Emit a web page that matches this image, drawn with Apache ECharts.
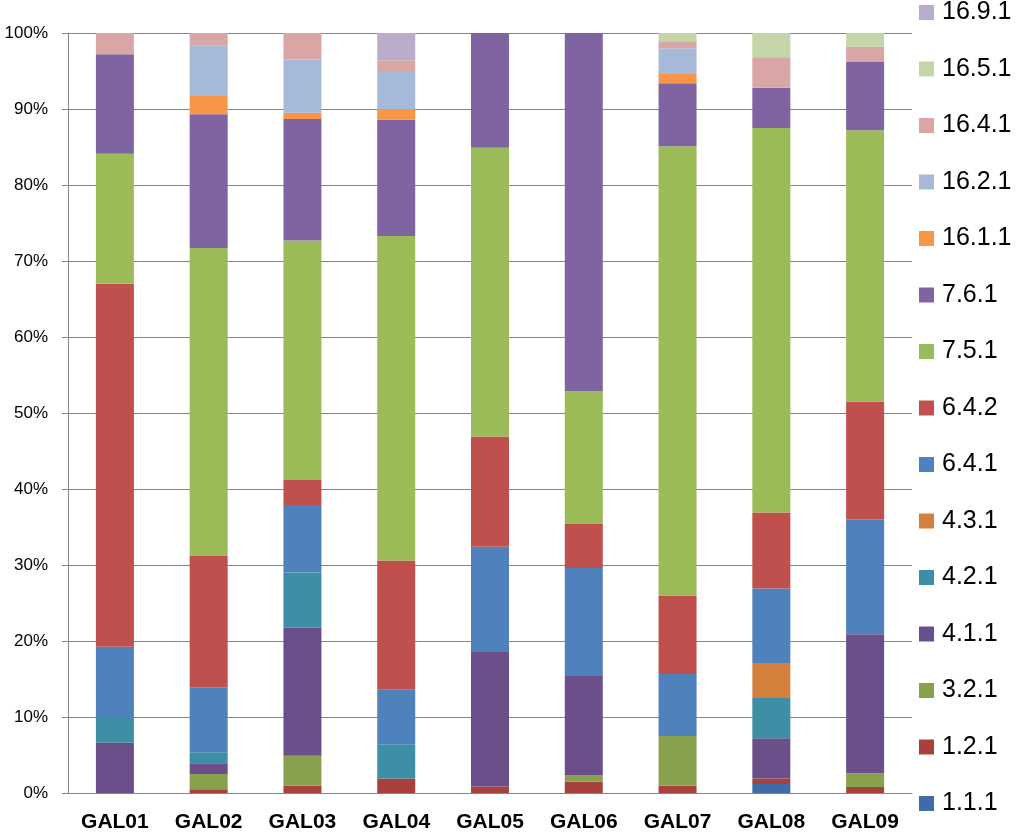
<!DOCTYPE html>
<html>
<head>
<meta charset="utf-8">
<script src="https://cdn.jsdelivr.net/npm/echarts@6/dist/echarts.min.js"></script>
<style>
html,body{margin:0;padding:0;background:#fff;}
#chart{width:1017px;height:834px;}
</style>
</head>
<body>
<div id="chart"></div>
<script>
var categories = ['GAL01','GAL02','GAL03','GAL04','GAL05','GAL06','GAL07','GAL08','GAL09'];
var yTickLabels = ['0%','10%','20%','30%','40%','50%','60%','70%','80%','90%','100%'];

var s_1_1_1  = [0, 0, 0, 0, 0, 0, 0, 1.2, 0];
var s_1_2_1  = [0, 0.5, 1.0, 1.9, 0.85, 1.5, 1.0, 0.7, 0.8];
var s_3_2_1  = [0, 2.0, 3.9, 0, 0, 0.8, 6.5, 0, 1.8];
var s_4_1_1  = [6.6, 1.4, 16.85, 0, 17.7, 13.1, 0, 5.3, 18.3];
var s_4_2_1  = [3.4, 1.45, 7.25, 4.5, 0, 0, 0, 5.3, 0];
var s_4_3_1  = [0, 0, 0, 0, 0, 0, 0, 4.5, 0];
var s_6_4_1  = [9.25, 8.55, 8.9, 7.2, 13.85, 14.2, 8.15, 9.9, 15.1];
var s_6_4_2  = [47.75, 17.3, 3.3, 17.0, 14.5, 5.8, 10.35, 10.0, 15.5];
var s_7_5_1  = [17.1, 40.5, 31.5, 42.7, 38.0, 17.5, 59.1, 50.6, 35.7];
var s_7_6_1  = [13.1, 17.6, 16.0, 15.3, 15.1, 47.1, 8.3, 5.3, 9.0];
var s_16_1_1 = [0, 2.4, 0.8, 1.4, 0, 0, 1.2, 0, 0];
var s_16_2_1 = [0, 6.7, 7.0, 5.0, 0, 0, 3.4, 0, 0];
var s_16_4_1 = [2.8, 1.6, 3.5, 1.4, 0, 0, 0.9, 4.0, 2.0];
var s_16_5_1 = [0, 0, 0, 0, 0, 0, 1.1, 3.2, 1.8];
var s_16_9_1 = [0, 0, 0, 3.6, 0, 0, 0, 0, 0];

var seriesNames = ['1.1.1','1.2.1','3.2.1','4.1.1','4.2.1','4.3.1','6.4.1','6.4.2','7.5.1','7.6.1','16.1.1','16.2.1','16.4.1','16.5.1','16.9.1'];
var seriesValues = [s_1_1_1, s_1_2_1, s_3_2_1, s_4_1_1, s_4_2_1, s_4_3_1, s_6_4_1, s_6_4_2, s_7_5_1, s_7_6_1, s_16_1_1, s_16_2_1, s_16_4_1, s_16_5_1, s_16_9_1];
var seriesColors = ['#3F6CA6','#A8413E','#87A14C','#6A4F8A','#3C8FA5','#D3803D','#4F81BD','#C0504D','#9BBB59','#8064A2','#F79646','#A7B9D8','#D9A6A5','#C4D6A8','#B9ADCB'];

var series = seriesNames.map(function(n, i){
  return {
    name: n,
    type: 'bar',
    stack: 'total',
    barWidth: 38,
    data: seriesValues[i],
    itemStyle: {color: seriesColors[i]},
    emphasis: {disabled: true}
  };
});

var chart = echarts.init(document.getElementById('chart'), null, {renderer: 'canvas'});
chart.setOption({
  animation: false,
  backgroundColor: '#ffffff',
  grid: {left: 68, right: 105, top: 33, bottom: 41, containLabel: false},
  legend: {
    orient: 'vertical',
    left: 919,
    top: 0,
    padding: 0,
    itemWidth: 15,
    itemHeight: 15,
    itemGap: 31.5,
    icon: 'rect',
    selectedMode: false,
    data: seriesNames.slice().reverse(),
    textStyle: {fontFamily: 'Liberation Sans', fontSize: 25, lineHeight: 24, color: '#000', padding: [0,0,0,3]}
  },
  xAxis: {
    type: 'category',
    data: categories,
    axisLine: {lineStyle: {color: '#868686', width: 1}},
    axisTick: {show: false},
    axisLabel: {fontFamily: 'Liberation Sans', fontSize: 21, fontWeight: 'bold', color: '#000', margin: 19}
  },
  yAxis: {
    type: 'value',
    min: 0,
    max: 100,
    interval: 10,
    axisLine: {show: true, lineStyle: {color: '#868686', width: 1}},
    axisTick: {show: true, length: 6, lineStyle: {color: '#868686'}},
    splitLine: {lineStyle: {color: '#868686', width: 1}},
    axisLabel: {
      fontFamily: 'Liberation Sans', fontSize: 17, color: '#000', margin: 20,
      formatter: function(v){ return yTickLabels[Math.round(v/10)]; }
    }
  },
  series: series
});
</script>
</body>
</html>
